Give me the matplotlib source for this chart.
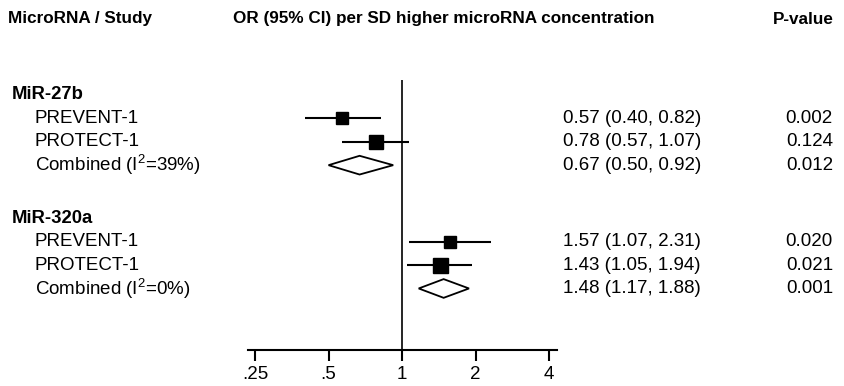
import numpy as np
import matplotlib
matplotlib.use('Agg')
import matplotlib.pyplot as plt
from matplotlib import transforms

plt.rcParams['font.family'] = ['Liberation Sans', 'DejaVu Sans']
plt.rcParams['mathtext.fontset'] = 'custom'
plt.rcParams['mathtext.rm'] = 'Liberation Sans'
plt.rcParams['mathtext.it'] = 'Liberation Sans:italic'

# data
groups = ['MiR-27b', 'MiR-320a']
studies = ['PREVENT-1', 'PROTECT-1', 'Combined']
i2_labels = ['Combined (I$^{2}$=39%)', 'Combined (I$^{2}$=0%)']
est = [[0.57, 0.78, 0.67], [1.57, 1.43, 1.48]]
lo = [[0.40, 0.57, 0.50], [1.07, 1.05, 1.17]]
hi = [[0.82, 1.07, 0.92], [2.31, 1.94, 1.88]]
pvals = [['0.002', '0.124', '0.012'], ['0.020', '0.021', '0.001']]
tick_vals = [0.25, 0.5, 1, 2, 4]
tick_labels = ['.25', '.5', '1', '2', '4']

# layout (row units)
group_rows = [0, 5.27]
box_size = [[9.0, 10.2], [8.6, 10.8]]

W, H = 845, 386
fig = plt.figure(figsize=(W / 100, H / 100), dpi=100)
ax_left, ax_right, ax_top, ax_bot = 248, 557, 80, 350
ax = fig.add_axes([ax_left / W, 1 - ax_bot / H, (ax_right - ax_left) / W, (ax_bot - ax_top) / H])
ax.set_xscale('log', base=2)
ax.set_xlim(0.234, 4.31)
ax.set_ylim(10.9, -0.64)

for s in ['top', 'right', 'left']:
    ax.spines[s].set_visible(False)
ax.spines['bottom'].set_linewidth(1.5)
ax.set_yticks([])
ax.set_xticks(tick_vals)
ax.set_xticklabels(tick_labels, fontsize=13.5)
ax.minorticks_off()
ax.tick_params(axis='x', length=8, width=1.5, pad=3.5)
ax.axvline(1, color='black', lw=1.2)

tr = transforms.blended_transform_factory(fig.transFigure, ax.transData)
fs = 13.5

fig.text(8 / W, 1 - 19 / H, 'MicroRNA / Study', fontsize=12.3, fontweight='bold', va='center')
fig.text(233 / W, 1 - 19 / H, 'OR (95% CI) per SD higher microRNA concentration', fontsize=12.3,
         fontweight='bold', va='center')
fig.text(834 / W, 1 - 19 / H, 'P-value', fontsize=12.3, fontweight='bold', va='center', ha='right')

for g in range(len(groups)):
    y0 = group_rows[g]
    ax.text(12 / W, y0, groups[g], transform=tr, fontsize=13.3, fontweight='bold', va='center', clip_on=False)
    for k in range(3):
        y = y0 + k + 1
        label = studies[k] if k < 2 else i2_labels[g]
        ax.text(35 / W, y, label, transform=tr, fontsize=fs, va='center', clip_on=False)
        ax.text(563 / W, y, '%.2f (%.2f, %.2f)' % (est[g][k], lo[g][k], hi[g][k]), transform=tr,
                fontsize=fs, va='center', clip_on=False)
        ax.text(833 / W, y, pvals[g][k], transform=tr, fontsize=fs, va='center', ha='right', clip_on=False)
        if k < 2:
            ax.plot([lo[g][k], hi[g][k]], [y, y], color='black', lw=1.5, solid_capstyle='butt')
            ax.plot(est[g][k], y, marker='s', color='black', markersize=box_size[g][k])
        else:
            h = 0.4
            ax.fill([lo[g][k], est[g][k], hi[g][k], est[g][k]], [y, y - h, y, y + h],
                    facecolor='white', edgecolor='black', lw=1.3, zorder=3)

fig.savefig('out.png', dpi=100)
